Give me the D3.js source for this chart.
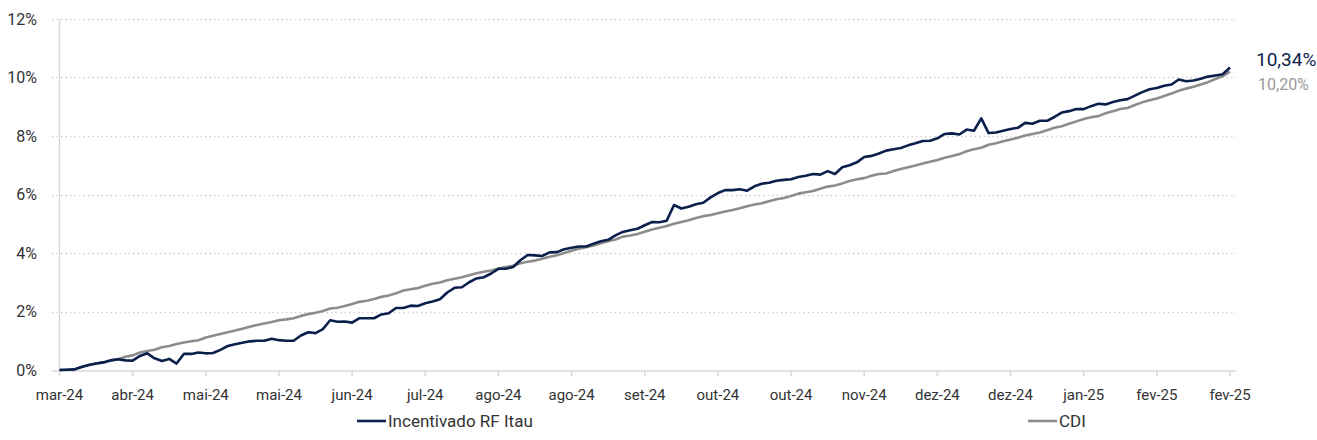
<!DOCTYPE html>
<html><head><meta charset="utf-8">
<script src="https://cdn.jsdelivr.net/npm/d3@7"></script>
<style>
body{margin:0;background:#fff}
svg{display:block}
text{font-family:Roboto, "Noto Sans", sans-serif}
</style>
</head><body>
<svg id="c" width="1317" height="440"></svg>
<script>
const xLabels = ["mar-24","abr-24","mai-24","mai-24","jun-24","jul-24","ago-24","ago-24","set-24","out-24","out-24","nov-24","dez-24","dez-24","jan-25","fev-25","fev-25"];
const yTicks = [0,2,4,6,8,10,12];
const seriesNames = ["Incentivado RF Itau","CDI"];
const endLabels = ["10,34%","10,20%"];
const itau = [0,0.01,0.02,0.1,0.17,0.22,0.26,0.33,0.37,0.33,
0.32,0.48,0.57,0.4,0.31,0.38,0.22,0.55,0.55,0.6,
0.57,0.58,0.69,0.82,0.88,0.93,0.98,1.0,1.0,1.07,
1.02,1.0,1.0,1.18,1.29,1.26,1.4,1.7,1.65,1.66,
1.62,1.77,1.77,1.77,1.9,1.94,2.12,2.12,2.2,2.19,
2.28,2.34,2.42,2.65,2.81,2.83,3.0,3.13,3.17,3.3,
3.46,3.46,3.52,3.75,3.93,3.92,3.9,4.02,4.03,4.13,
4.18,4.22,4.22,4.32,4.4,4.45,4.6,4.72,4.78,4.83,
4.95,5.06,5.05,5.1,5.64,5.52,5.58,5.67,5.72,5.9,
6.05,6.15,6.15,6.18,6.13,6.28,6.37,6.4,6.47,6.5,
6.52,6.6,6.64,6.7,6.68,6.8,6.7,6.93,7.0,7.1,
7.28,7.32,7.4,7.5,7.55,7.59,7.68,7.75,7.83,7.84,
7.92,8.07,8.09,8.05,8.22,8.18,8.6,8.1,8.12,8.18,
8.24,8.28,8.45,8.42,8.52,8.52,8.65,8.8,8.85,8.92,
8.92,9.02,9.1,9.08,9.16,9.22,9.26,9.38,9.5,9.6,
9.64,9.72,9.76,9.93,9.87,9.9,9.96,10.03,10.07,10.11,
10.34];
const cdi = [0,0.01,0.02,0.1,0.17,0.22,0.26,0.32,0.37,0.45,
0.5,0.6,0.65,0.69,0.78,0.82,0.89,0.94,0.98,1.02,
1.11,1.17,1.23,1.29,1.35,1.41,1.48,1.54,1.59,1.64,
1.7,1.73,1.77,1.85,1.91,1.96,2.02,2.1,2.13,2.19,
2.26,2.33,2.37,2.43,2.5,2.55,2.62,2.72,2.76,2.8,
2.88,2.95,2.99,3.07,3.12,3.17,3.24,3.31,3.36,3.4,
3.47,3.52,3.56,3.65,3.7,3.74,3.8,3.87,3.92,4.0,
4.08,4.15,4.2,4.26,4.33,4.4,4.46,4.56,4.6,4.65,
4.73,4.8,4.86,4.92,5.0,5.06,5.12,5.2,5.26,5.3,
5.36,5.42,5.47,5.53,5.6,5.66,5.7,5.77,5.84,5.88,
5.95,6.03,6.08,6.12,6.2,6.27,6.31,6.38,6.46,6.52,
6.56,6.64,6.7,6.72,6.8,6.87,6.93,6.99,7.06,7.12,
7.18,7.26,7.32,7.38,7.48,7.55,7.6,7.7,7.75,7.82,
7.88,7.94,8.02,8.07,8.12,8.2,8.28,8.33,8.42,8.5,
8.58,8.64,8.68,8.78,8.85,8.92,8.96,9.06,9.15,9.22,
9.28,9.37,9.45,9.55,9.62,9.68,9.76,9.84,9.95,10.05,
10.2];

const navy = "#0b1f4d", gray = "#8c8c8c", textCol = "#333333", axisCol = "#d9d9d9";
const svg = d3.select("#c");
const n = itau.length;
const x = d3.scaleLinear().domain([0, n - 1]).range([59.5, 1230]);
const y = d3.scaleLinear().domain([0, 12]).range([370, 19]);
const step = (n - 1) / (xLabels.length - 1);
const tickIdx = xLabels.map((d, i) => i * step);

// gridlines
svg.append("g").selectAll("line").data(yTicks.filter(d => d > 0)).join("line")
  .attr("x1", 52).attr("x2", 1236)
  .attr("y1", d => Math.round(y(d)) + 0.5).attr("y2", d => Math.round(y(d)) + 0.5)
  .attr("stroke", "#cfcfcf").attr("stroke-width", 1.3).attr("stroke-dasharray", "1.5,3");

// y axis line
svg.append("line").attr("x1", 59.5).attr("x2", 59.5).attr("y1", y(12)).attr("y2", y(0) + 1)
  .attr("stroke", axisCol).attr("stroke-width", 1.5);
// x axis line
const xAxisY = y(0) + 1;
svg.append("line").attr("x1", 52).attr("x2", 1236).attr("y1", xAxisY).attr("y2", xAxisY)
  .attr("stroke", axisCol).attr("stroke-width", 1.5);
svg.append("g").selectAll("line").data(tickIdx).join("line")
  .attr("x1", d => x(d)).attr("x2", d => x(d)).attr("y1", xAxisY).attr("y2", xAxisY + 5)
  .attr("stroke", axisCol).attr("stroke-width", 1.5);

// y labels
svg.append("g").selectAll("text").data(yTicks).join("text")
  .attr("x", 37).attr("y", d => y(d)).attr("dy", "0.35em")
  .attr("text-anchor", "end").attr("fill", textCol).style("font-size", "16px")
  .text(d => d + "%");

// x labels
svg.append("g").selectAll("text").data(xLabels).join("text")
  .attr("x", (d, i) => x(tickIdx[i])).attr("y", 395).attr("dy", "0.35em")
  .attr("text-anchor", "middle").attr("fill", textCol).style("font-size", "15px")
  .text(d => d);

// lines
const line = d3.line().x((d, i) => x(i)).y(d => y(d));
svg.append("path").datum(cdi).attr("d", line).attr("fill", "none")
  .attr("stroke", gray).attr("stroke-width", 2.6).attr("stroke-linejoin", "round");
svg.append("path").datum(itau).attr("d", line).attr("fill", "none")
  .attr("stroke", navy).attr("stroke-width", 2.6).attr("stroke-linejoin", "round");

// end labels
svg.append("text").attr("x", 1256).attr("y", 59).attr("dy", "0.35em")
  .attr("fill", navy).style("font-size", "19px").text(endLabels[0]);
svg.append("text").attr("x", 1258).attr("y", 84).attr("dy", "0.35em")
  .attr("fill", "#999999").style("font-size", "16px").text(endLabels[1]);

// legend
const legend = [
  {name: seriesNames[0], color: navy, x: 357},
  {name: seriesNames[1], color: gray, x: 1028}
];
const lg = svg.append("g").selectAll("g").data(legend).join("g")
  .attr("transform", d => `translate(${d.x},421)`);
lg.append("line").attr("x1", 0).attr("x2", 29).attr("y1", 0).attr("y2", 0)
  .attr("stroke", d => d.color).attr("stroke-width", 2.6);
lg.append("text").attr("x", 31).attr("y", 0).attr("dy", "0.35em")
  .attr("fill", textCol).style("font-size", "17px").text(d => d.name);
</script>
</body></html>
